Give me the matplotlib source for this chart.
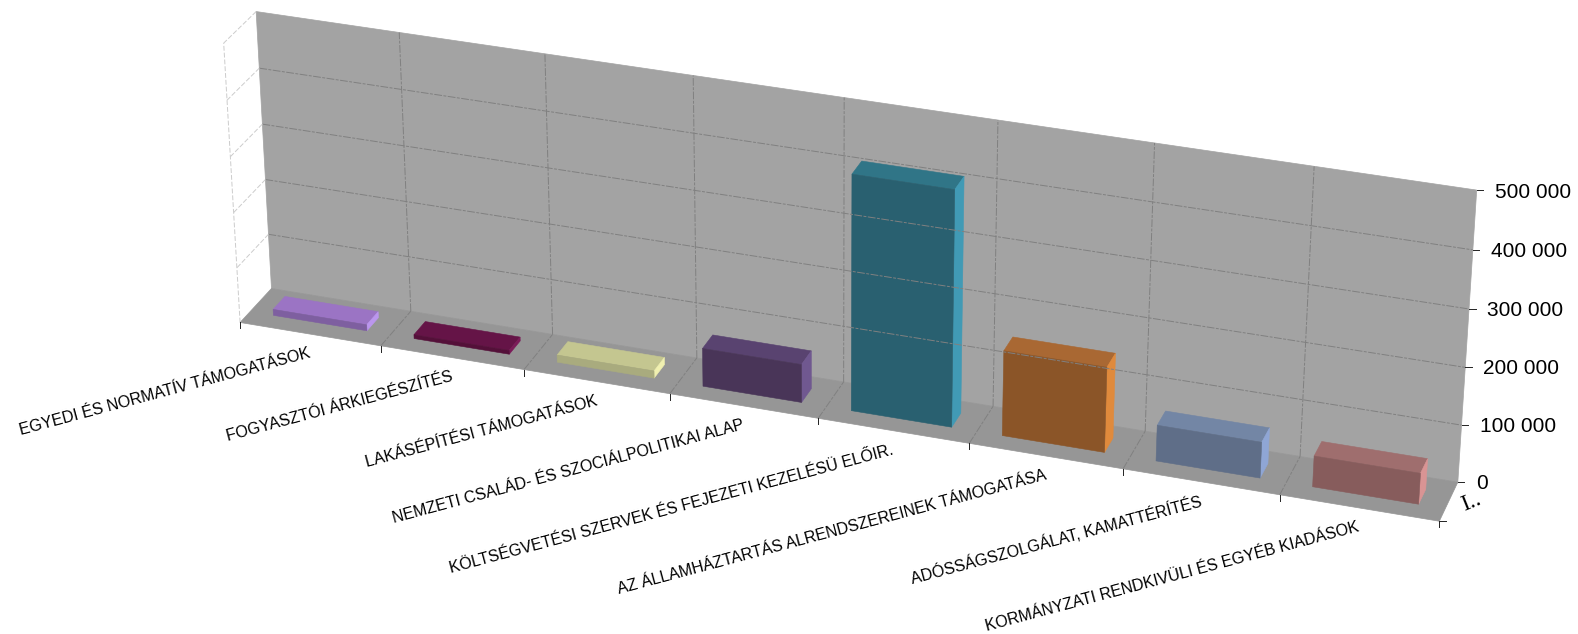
import numpy as np
import matplotlib
matplotlib.use('Agg')
import matplotlib.pyplot as plt
from matplotlib.patches import Polygon

plt.rcParams['font.family'] = ['Liberation Sans', 'DejaVu Sans']

categories = ['EGYEDI ÉS NORMATÍV TÁMOGATÁSOK', 'FOGYASZTÓI ÁRKIEGÉSZÍTÉS',
              'LAKÁSÉPÍTÉSI TÁMOGATÁSOK', 'NEMZETI CSALÁD- ÉS SZOCIÁLPOLITIKAI ALAP',
              'KÖLTSÉGVETÉSI SZERVEK ÉS FEJEZETI KEZELÉSÜ ELŐIR.',
              'AZ ÁLLAMHÁZTARTÁS ALRENDSZEREINEK TÁMOGATÁSA',
              'ADÓSSÁGSZOLGÁLAT, KAMATTÉRÍTÉS',
              'KORMÁNYZATI RENDKIVÜLI ÉS EGYÉB KIADÁSOK']
values = [11000, 7000, 13000, 68000, 415000, 150000, 63000, 54000]
z_ticks = [0, 100000, 200000, 300000, 400000, 500000]
z_labels = ['0', '100 000', '200 000', '300 000', '400 000', '500 000']
z_max = 500000

# top, front, side
bar_colors = [('#9B74C4', '#7E5FA0', '#BB96EE'),
              ('#651447', '#541039', '#7B1A58'),
              ('#C4C690', '#A9AB7E', '#F0F0B0'),
              ('#594370', '#493558', '#705890'),
              ('#307587', '#296070', '#419AB5'),
              ('#A96833', '#8B5528', '#E08A3C'),
              ('#7386A5', '#5F6E88', '#8FA6D5'),
              ('#9F6E6E', '#875C5C', '#D99494')]

# box corners and grid feet: (category, depth, height) -> pixel
camera_world = [(0, 1, 0), (0, 1, 1), (8, 1, 0), (8, 1, 1), (0, 0, 0), (8, 0, 0), (0, 0, 1),
                (1, 0, 0), (2, 0, 0), (3, 0, 0), (4, 0, 0), (5, 0, 0), (6, 0, 0), (7, 0, 0),
                (1, 1, 0), (2, 1, 0), (3, 1, 0), (4, 1, 0), (5, 1, 0), (6, 1, 0), (7, 1, 0),
                (8, 1, .2), (8, 1, .4), (8, 1, .6), (8, 1, .8)]
camera_pixel = [(272, 288), (256, 12), (1459, 481), (1476, 191.5), (240, 322), (1439, 520), (224, 41),
                (381, 347), (524, 370), (670, 395), (818, 418), (970, 443), (1123, 468), (1279, 497),
                (411, 312), (552, 335), (697, 357), (843, 382), (992, 406), (1145, 432), (1300, 455),
                (1462, 425), (1466, 367), (1469, 309), (1473, 250.5)]


def fit_camera(world, pixel):
    rows, rhs = [], []
    for (x, y, z), (u, v) in zip(world, pixel):
        rows.append([x, y, z, 1, 0, 0, 0, 0, -u * x, -u * y, -u * z])
        rhs.append(u)
        rows.append([0, 0, 0, 0, x, y, z, 1, -v * x, -v * y, -v * z])
        rhs.append(v)
    p = np.linalg.lstsq(np.array(rows, float), np.array(rhs, float), rcond=None)[0]
    return np.append(p, 1).reshape(3, 4)


P = fit_camera(camera_world, camera_pixel)


def project(x, y, z):
    u, v, w = P @ np.array([x, y, z, 1.0])
    return u / w, v / w


def face(pts, **kw):
    ax.add_patch(Polygon([project(*p) for p in pts], closed=True, **kw))


def line3(a, b, **kw):
    pa, pb = project(*a), project(*b)
    ax.plot([pa[0], pb[0]], [pa[1], pb[1]], **kw)


fig = plt.figure(figsize=(15.78, 6.34), dpi=100)
ax = fig.add_axes([0, 0, 1, 1])
ax.set_xlim(0, 1578)
ax.set_ylim(634, 0)
ax.axis('off')

n = len(values)

# murs et sol
face([(0, 1, 0), (n, 1, 0), (n, 1, 1), (0, 1, 1)], fc='#A3A3A3', ec='#A3A3A3', lw=0.5)
face([(0, 0, 0), (n, 0, 0), (n, 1, 0), (0, 1, 0)], fc='#969696', ec='#969696', lw=0.5)

grid = dict(color='#808080', lw=0.7, dashes=(8, 1.5, 3, 1.5))
wall = dict(color='#CCCCCC', lw=0.7, dashes=(5, 2))
for t in z_ticks[1:]:
    z = t / z_max
    if t < z_max:
        line3((0, 1, z), (n, 1, z), **grid)
    line3((0, 1, z), (0, 0, z), **wall)
line3((0, 0, 0), (0, 0, 1), **wall)
for k in range(1, n):
    line3((k, 1, 0), (k, 1, 1), **grid)
    line3((k, 0, 0), (k, 1, 0), **grid)

# barres
x_gap, d0, d1 = 1 / 6, 0.32, 0.70
for k, (v, (c_top, c_front, c_side)) in enumerate(zip(values, bar_colors)):
    x0, x1, h = k + x_gap, k + 1 - x_gap, v / z_max
    face([(x0, d0, h), (x1, d0, h), (x1, d1, h), (x0, d1, h)], fc=c_top, ec=c_top, lw=0.4)
    face([(x1, d0, 0), (x1, d1, 0), (x1, d1, h), (x1, d0, h)], fc=c_side, ec=c_side, lw=0.4)
    face([(x0, d0, 0), (x1, d0, 0), (x1, d0, h), (x0, d0, h)], fc=c_front, ec=c_front, lw=0.4)

# graduations
for k in range(n + 1):
    u, v = project(k, 0, 0)
    ax.plot([u, u], [v, v + 6], color='#222222', lw=0.7)
for t, lab in zip(z_ticks, z_labels):
    u, v = project(n, 1, t / z_max)
    ax.plot([u, u + 6.5], [v, v], color='#222222', lw=0.7)
    ax.text(u + 18, v + 1 + 1.2 * t / z_max, lab, fontsize=15, ha='left', va='center', color='k')

u, v = project(n, 0, 0)
ax.plot([u, u + 7], [v, v], color='#222222', lw=0.7)
ax.text(1471, 502, 'I..', fontsize=17, family='Liberation Serif', rotation=22,
        ha='center', va='center', color='k')

for k, lab in enumerate(categories):
    u, v = project(k + 0.5, 0, 0)
    ax.text(u, v + 19, lab, fontsize=11.5, rotation=15, rotation_mode='anchor',
            ha='right', va='center', color='k')

fig.savefig('out.png', dpi=100)
